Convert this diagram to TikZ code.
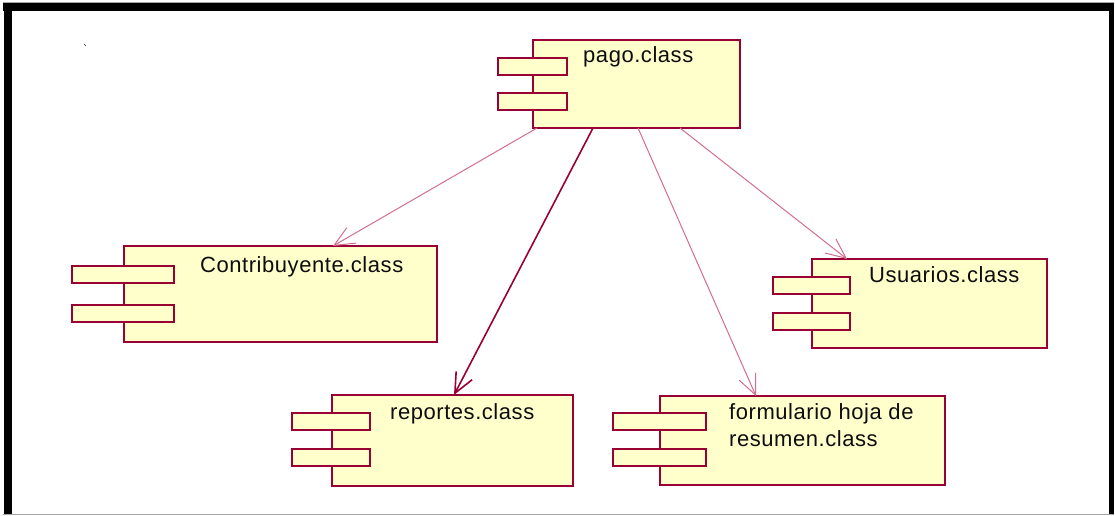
\documentclass[tikz,border=0pt]{standalone}
\usepackage{fontspec}
\setmainfont{Liberation Sans}[LetterSpace=2.5]
\usetikzlibrary{arrows.meta,calc}
\definecolor{umlred}{RGB}{153,0,51}
\definecolor{umlfill}{RGB}{255,255,204}
\definecolor{linkpink}{RGB}{210,110,145}
\begin{document}
\begin{tikzpicture}[x=1pt,y=-1pt,
  comp/.style={draw=umlred,fill=umlfill,line width=1.8pt,rectangle,
    inner sep=0pt,outer sep=0pt,anchor=north west},
  port/.style={comp,minimum height=17pt},
  lbl/.style={anchor=base west,inner sep=0pt,text=black!95,
    font=\fontsize{22}{27}\selectfont},
  dep/.style={-{Straight Barb[length=20pt,width=18pt]},line width=1pt,draw=linkpink},
  depstrong/.style={dep,draw=umlred,line width=1.6pt}
]
\useasboundingbox (0,0) rectangle (1115,516);
\fill[white] (0,0) rectangle (1115,516);

% outer frame
\draw[gray!70,line width=0.8pt] (3,2.8) -- (1114,2.8);
\fill[black] (3,3.3) rectangle (1114,11);
\fill[black] (3.5,3.3) rectangle (12,515);
\fill[black] (1108.5,3.3) rectangle (1114,515);
\draw[gray!70,line width=1pt] (3,514.5) -- (1114,514.5);
\draw[black!80,line width=0.6pt] (84,44) -- (86,46);

% components
\node[comp,minimum width=207pt,minimum height=88pt] (pago) at (533,40) {};
\node[port,minimum width=69pt] (pago-p1) at (498,58) {};
\node[port,minimum width=69pt] (pago-p2) at (498,93) {};
\node[lbl] (pago-t) at (583,63) {pago.class};

\node[comp,minimum width=313pt,minimum height=96pt] (contrib) at (124,246) {};
\node[port,minimum width=102pt] (contrib-p1) at (72,266) {};
\node[port,minimum width=102pt] (contrib-p2) at (72,305) {};
\node[lbl] (contrib-t) at (200,272) {Contribuyente.class};

\node[comp,minimum width=241pt,minimum height=91pt] (rep) at (332,395) {};
\node[port,minimum width=78pt] (rep-p1) at (292,413) {};
\node[port,minimum width=78pt] (rep-p2) at (292,449) {};
\node[lbl] (rep-t) at (390,419) {reportes.class};

\node[comp,minimum width=285pt,minimum height=89pt] (form) at (660,396) {};
\node[port,minimum width=93pt] (form-p1) at (613,413) {};
\node[port,minimum width=93pt] (form-p2) at (613,449) {};
\node[lbl] (form-t1) at (729,419) {formulario hoja de};
\node[lbl] (form-t2) at (729,446) {resumen.class};

\node[comp,minimum width=235pt,minimum height=89pt] (usr) at (812,259) {};
\node[port,minimum width=77pt] (usr-p1) at (773,277) {};
\node[port,minimum width=77pt] (usr-p2) at (773,313) {};
\node[lbl] (usr-t) at (869,282) {Usuarios.class};

% dependencies
\draw[dep] ($(pago.south west)+(4,0)$) -- ($(contrib.north west)+(209,0)$);
\draw[depstrong] ($(pago.south west)+(60,0)$) -- ($(rep.north west)+(122,0)$);
\draw[dep] ($(pago.south west)+(105,0)$) -- ($(form.north west)+(96,0)$);
\draw[dep] ($(pago.south west)+(147,0)$) -- ($(usr.north west)+(35,0)$);
\end{tikzpicture}
\end{document}
